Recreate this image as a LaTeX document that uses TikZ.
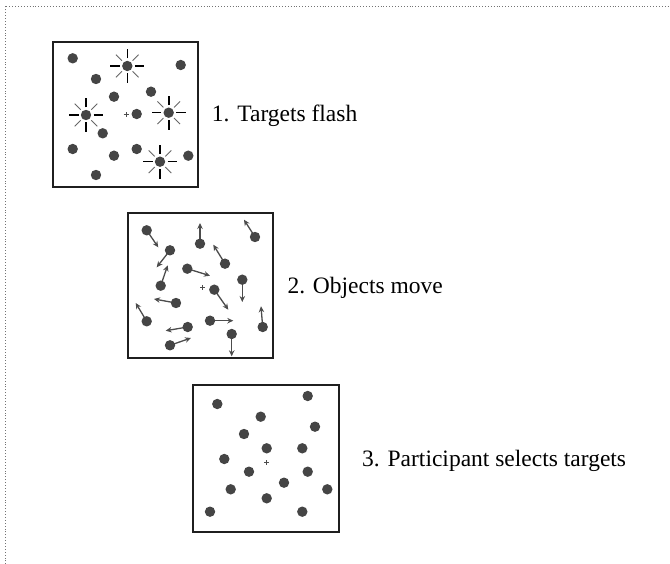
\documentclass[tikz,border=0pt]{standalone}
\usepackage{fontspec}
\setmainfont{Liberation Serif}
\usetikzlibrary{arrows.meta}

\tikzset{
  panel/.style={draw=black!88, line width=2.2pt},
  dot/.style={fill=black!73},
  move/.style={draw=black!70, line width=1.3pt, shorten <=4pt,
    -{Stealth[length=6pt,width=5.5pt]}},
  ray/.style={draw=black, line width=1.6pt},
  thinray/.style={draw=black!60, line width=0.9pt},
  fix/.style={draw=black!70, line width=0.6pt},
  caption/.style={anchor=base west, inner sep=0pt,
    font=\fontsize{23.5}{28}\selectfont},
}

\begin{document}
\begin{tikzpicture}[x=1pt,y=-1pt]
  \useasboundingbox (0,0) rectangle (670,564);
  \draw[black!55, dotted, line width=0.9pt] (5,570) -- (5,6) -- (675,6);

  % panel 1: targets flash
  \draw[panel] (53,42) rectangle (198,187);
  \foreach \x/\y in {127.3/66, 86/115, 168.7/112.7, 160/161.7}{
    \foreach \a in {0,90,180,270}
      \draw[ray] (\x,\y) ++(\a:7.5) -- ++(\a:9.5);
    \foreach \a in {45,135,225,315}
      \draw[thinray] (\x,\y) ++(\a:7.5) -- ++(\a:8.5);
  }
  \foreach \x/\y in {72.7/58.3, 127.3/66, 180.7/65, 96/79, 114/96.7,
      151/91.7, 86/115, 136.7/114, 168.7/112.7, 102.7/133.3, 72.7/149,
      114/155.7, 136.7/149, 160/161.7, 188.3/155.7, 96/175}
    \fill[dot] (\x,\y) circle (5.2);
  \draw[fix] (126,114.7) +(-2.5,0) -- +(2.5,0) +(0,-2.5) -- +(0,2.5);
  \node[caption] (flash) at (211.7,121.7) {1. Targets flash};

  % panel 2: objects move
  \draw[panel] (128,213) rectangle (273,358);
  \foreach \x/\y/\u/\v in {146.7/230.3/158.3/247.3, 200/243.7/200/223,
      255/237/244/219.7, 170/250.3/156.7/267.3, 225/263.7/213.3/244.7,
      187.3/268.7/210/275.7, 160.7/285.7/167.7/265.3,
      242.3/279.7/242.3/302, 214.3/289.7/228.3/309.7, 176/303/154/299,
      146.7/321.3/135.7/303, 210/320.7/233.3/320.7,
      262.7/327/261/306.3, 187.7/327/165.7/330.7, 170/345.3/191/338,
      231.7/334/231.7/356.3}{
    \draw[move] (\x,\y) -- (\u,\v);
    \fill[dot] (\x,\y) circle (5.2);
  }
  \draw[fix] (202.7,287.3) +(-2.5,0) -- +(2.5,0) +(0,-2.5) -- +(0,2.5);
  \node[caption] (move) at (287.3,293.3) {2. Objects move};

  % panel 3: participant selects
  \draw[panel] (193,385) rectangle (339,532);
  \foreach \x/\y in {217.3/404, 307.7/396, 260.7/416.7, 315/426.7,
      244/434, 266.7/448.3, 302.3/448.3, 224.3/459, 249/471.7,
      307.7/471.7, 284/482.7, 230.7/489.3, 327.3/489.3, 266.7/498.3,
      210/511.7, 302.3/511.7}
    \fill[dot] (\x,\y) circle (5.2);
  \draw[fix] (266.7,462.7) +(-2.5,0) -- +(2.5,0) +(0,-2.5) -- +(0,2.5);
  \node[caption] (select) at (362,466.7) {3. Participant selects targets};
\end{tikzpicture}
\end{document}
